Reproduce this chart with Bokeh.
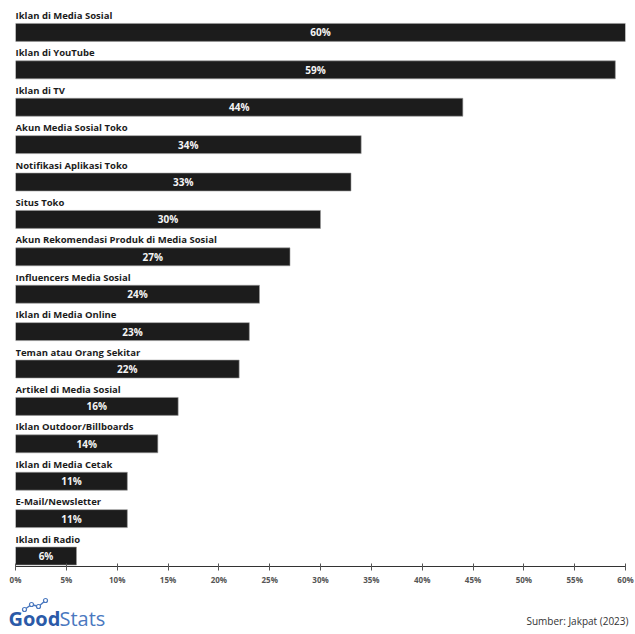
from bokeh.plotting import figure
from bokeh.models import ColumnDataSource, Label, FixedTicker, CustomJSTickFormatter
from bokeh.layouts import column, row
from bokeh.embed import file_html
from bokeh.resources import INLINE
from bokeh.core.properties import value

categories = [
    "Iklan di Media Sosial", "Iklan di YouTube", "Iklan di TV", "Akun Media Sosial Toko",
    "Notifikasi Aplikasi Toko", "Situs Toko", "Akun Rekomendasi Produk di Media Sosial",
    "Influencers Media Sosial", "Iklan di Media Online", "Teman atau Orang Sekitar",
    "Artikel di Media Sosial", "Iklan Outdoor/Billboards", "Iklan di Media Cetak",
    "E-Mail/Newsletter", "Iklan di Radio",
]
values = [60, 59, 44, 34, 33, 30, 27, 24, 23, 22, 16, 14, 11, 11, 6]
x_ticks = [0, 5, 10, 15, 20, 25, 30, 35, 40, 45, 50, 55, 60]

n = len(categories)
bar_y = [n - i - 0.72 for i in range(n)]
lab_y = [n - i - 0.27 for i in range(n)]
src = ColumnDataSource(dict(
    cat=categories, val=values, bar_y=bar_y, lab_y=lab_y,
    mid=[v / 2 for v in values], pct=[f"{v}%" for v in values],
    zero=[0] * n,
))

p = figure(width=635, height=590, x_range=(0, 60), y_range=(0, n),
           output_backend="svg", toolbar_location=None,
           min_border_left=15, min_border_right=10, min_border_top=5, min_border_bottom=24)
p.hbar(y="bar_y", left=0, right="val", height=0.48, source=src,
       fill_color="#1c1c1c", line_color="#9a9a9a", line_width=0.6)
p.text(x="zero", y="lab_y", text="cat", source=src, text_font=value("Open Sans"),
       text_font_style="bold", text_font_size="9.5px", text_color="#1c1c1c",
       text_baseline="middle", text_align="left")
p.text(x="mid", y="bar_y", text="pct", source=src, text_font=value("Open Sans"),
       text_font_style="bold", text_font_size="10px", text_color="#f4f4f4",
       text_baseline="middle", text_align="center")

p.xgrid.visible = False
p.ygrid.visible = False
p.yaxis.visible = False
p.outline_line_color = None
p.xaxis.ticker = FixedTicker(ticks=x_ticks)
p.xaxis.formatter = CustomJSTickFormatter(code="return tick + '%';")
p.xaxis.axis_line_color = "#333333"
p.xaxis.major_tick_line_color = "#555555"
p.xaxis.major_tick_in = 3
p.xaxis.major_tick_out = 4
p.xaxis.minor_tick_line_color = None
p.xaxis.major_label_text_font = "Open Sans"
p.xaxis.major_label_text_font_style = "bold"
p.xaxis.major_label_text_font_size = "8px"
p.xaxis.major_label_text_color = "#555555"
p.xaxis.major_label_standoff = 3

f = figure(width=635, height=44, x_range=(0, 635), y_range=(0, 44),
           output_backend="svg", toolbar_location=None, min_border=0)
f.axis.visible = False
f.grid.visible = False
f.outline_line_color = None
f.add_layout(Label(x=8, y=3, text="Good", text_font="Open Sans", text_font_style="bold",
                   text_font_size="20px", text_color="#2b5aa8"))
f.add_layout(Label(x=59, y=3, text="Stats", text_font="Open Sans", text_font_style="normal",
                   text_font_size="20px", text_color="#4a78bf"))
f.line(x=[24, 31, 38, 45], y=[25, 30, 28, 34], line_color="#4a78bf", line_width=1.5)
f.scatter(x=[24, 31, 38, 45], y=[25, 30, 28, 34], size=4, fill_color="white",
          line_color="#4a78bf", line_width=1.2)
f.add_layout(Label(x=628, y=7, text="Sumber: Jakpat (2023)", text_font="Open Sans",
                   text_font_size="10px", text_color="#333333", text_align="right"))

layout = column(p, row(f), spacing=0)
open("out.html", "w").write(file_html(layout, INLINE))
